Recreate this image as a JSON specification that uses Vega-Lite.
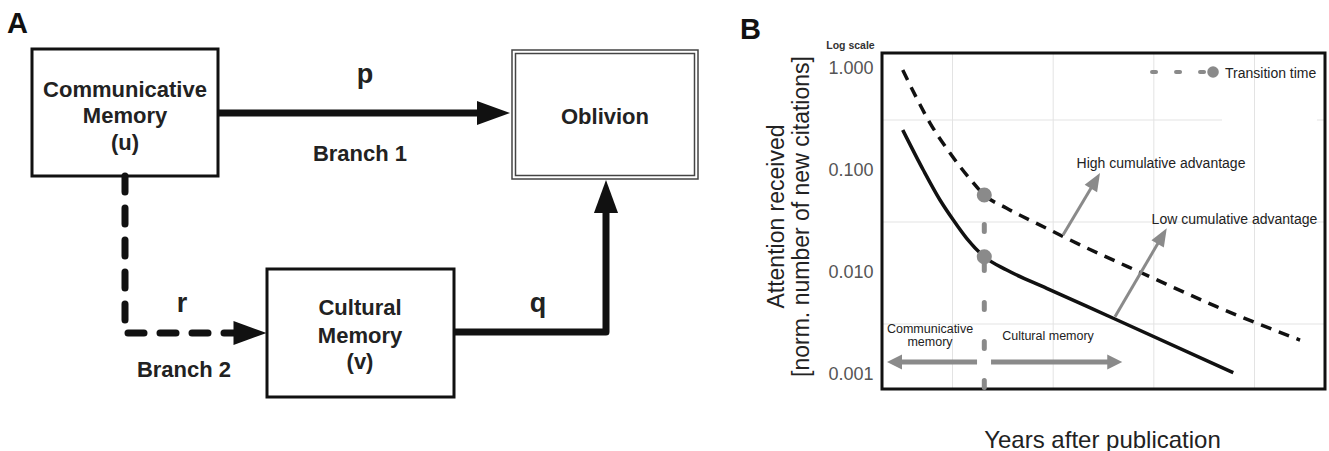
{
  "$schema": "https://vega.github.io/schema/vega-lite/v6.json",
  "width": 1329,
  "height": 451,
  "padding": 0,
  "autosize": {"type": "none"},
  "background": "white",
  "config": {"view": {"stroke": null}, "font": "Liberation Sans"},
  "datasets": {
    "boxes": [
      {"x": 32, "x2": 218, "y": 49, "y2": 176},
      {"x": 267, "x2": 454, "y": 269, "y2": 397}
    ],
    "oblivion": [
      {"x": 512, "x2": 698, "y": 50, "y2": 179},
      {"x": 515.5, "x2": 694.5, "y": 53.5, "y2": 175.5}
    ],
    "solidArrows": [
      {"seg": "p", "i": 0, "x": 218, "y": 113},
      {"seg": "p", "i": 1, "x": 495, "y": 113},
      {"seg": "q", "i": 0, "x": 454, "y": 332},
      {"seg": "q", "i": 1, "x": 606, "y": 332},
      {"seg": "q", "i": 2, "x": 606, "y": 198}
    ],
    "dashedArrow": [
      {"seg": "r", "i": 0, "x": 125, "y": 176},
      {"seg": "r", "i": 1, "x": 125, "y": 333},
      {"seg": "r", "i": 2, "x": 240, "y": 333}
    ],
    "headsRight": [
      {"x": 493.5, "y": 113},
      {"x": 250, "y": 333}
    ],
    "headsUp": [
      {"x": 606, "y": 196.5}
    ],
    "boxText": [
      {"t": "Communicative", "x": 125, "y": 97},
      {"t": "Memory", "x": 125, "y": 123},
      {"t": "(u)", "x": 125, "y": 150},
      {"t": "Cultural", "x": 360, "y": 315},
      {"t": "Memory", "x": 360, "y": 343},
      {"t": "(v)", "x": 360, "y": 369},
      {"t": "Oblivion", "x": 605, "y": 124},
      {"t": "Branch 1", "x": 360, "y": 161},
      {"t": "Branch 2", "x": 184, "y": 377}
    ],
    "edgeLetters": [
      {"t": "p", "x": 365, "y": 83},
      {"t": "q", "x": 538, "y": 312},
      {"t": "r", "x": 182, "y": 312}
    ],
    "panelLetters": [
      {"t": "A", "x": 7, "y": 33},
      {"t": "B", "x": 740, "y": 39}
    ],
    "vgrid": [
      {"x": 1, "y": 0.000729, "y2": 1.435},
      {"x": 2, "y": 0.000729, "y2": 1.435},
      {"x": 3, "y": 0.000729, "y2": 1.435},
      {"x": 4, "y": 0.000729, "y2": 1.435}
    ],
    "hgrid": [
      {"y": 0.3162, "x": 0.3, "x2": 3.677},
      {"y": 0.3162, "x": 4.62, "x2": 4.7},
      {"y": 0.03162, "x": 0.3, "x2": 4.7},
      {"y": 0.003162, "x": 0.3, "x2": 4.7}
    ],
    "frame": [
      {"x": 0.3, "x2": 4.7, "y": 0.000729, "y2": 1.435}
    ],
    "high": [
      {"x": 0.506, "y": 0.978},
      {"x": 0.638, "y": 0.5315},
      {"x": 0.777, "y": 0.2955},
      {"x": 0.975, "y": 0.1501},
      {"x": 1.174, "y": 0.0835},
      {"x": 1.316, "y": 0.0582},
      {"x": 1.539, "y": 0.0431},
      {"x": 1.936, "y": 0.0274},
      {"x": 2.101, "y": 0.0227},
      {"x": 2.962, "y": 0.0092},
      {"x": 3.624, "y": 0.00467},
      {"x": 4.452, "y": 0.0022}
    ],
    "low": [
      {"x": 0.506, "y": 0.2523},
      {"x": 0.710, "y": 0.1023},
      {"x": 0.876, "y": 0.052},
      {"x": 1.008, "y": 0.0331},
      {"x": 1.141, "y": 0.02188},
      {"x": 1.316, "y": 0.01444},
      {"x": 1.539, "y": 0.01069},
      {"x": 1.936, "y": 0.00708},
      {"x": 2.597, "y": 0.0036},
      {"x": 3.789, "y": 0.001054}
    ],
    "transitionLine": [
      {"i": 0, "x": 1.316, "y": 0.0299},
      {"i": 1, "x": 1.316, "y": 0.000729}
    ],
    "transitionDots": [
      {"x": 1.316, "y": 0.0582},
      {"x": 1.316, "y": 0.01444}
    ],
    "memoryArrows": [
      {"a": "left", "i": 0, "x": 1.244, "y": 0.001341},
      {"a": "left", "i": 1, "x": 0.43, "y": 0.001341},
      {"a": "right", "i": 0, "x": 1.383, "y": 0.001341},
      {"a": "right", "i": 1, "x": 2.6, "y": 0.001341}
    ],
    "memoryHeadLeft": [{"x": 0.424, "y": 0.001341}],
    "memoryHeadRight": [{"x": 2.612, "y": 0.001341}],
    "annotArrows": [
      {"a": "high", "i": 0, "x": 2.098, "y": 0.02359},
      {"a": "high", "i": 1, "x": 2.42, "y": 0.0803},
      {"a": "low", "i": 0, "x": 2.614, "y": 0.003728},
      {"a": "low", "i": 1, "x": 3.083, "y": 0.02301}
    ],
    "annotHeads": [
      {"x": 2.42, "y": 0.0803},
      {"x": 3.083, "y": 0.02301}
    ],
    "legendDash": [
      {"i": 0, "x": 2.982, "y": 0.9345},
      {"i": 1, "x": 3.56, "y": 0.9345}
    ],
    "legendDot": [{"x": 3.588, "y": 0.9345}],
    "legendText": [
      {"t": "Transition time", "x": 3.707, "y": 0.822}
    ],
    "chartText14": [
      {"t": "High cumulative advantage", "x": 3.071, "y": 0.1077},
      {"t": "Low cumulative advantage", "x": 3.801, "y": 0.0302}
    ],
    "chartText12": [
      {"t": "Communicative", "x": 0.777, "y": 0.002564},
      {"t": "memory", "x": 0.777, "y": 0.001937},
      {"t": "Cultural memory", "x": 1.949, "y": 0.002204}
    ],
    "logScale": [{"t": "Log scale", "x": -0.013, "y": 1.56}]
  },
  "layer": [
    {
      "encoding": {
        "x": {"field": "x", "type": "quantitative", "scale": {"domain": [0, 1329], "nice": false, "zero": false}, "axis": null},
        "y": {"field": "y", "type": "quantitative", "scale": {"domain": [0, 451], "reverse": true, "nice": false, "zero": false}, "axis": null}
      },
      "layer": [
        {"data": {"name": "boxes"}, "mark": {"type": "rect", "fillOpacity": 0, "stroke": "#111", "strokeWidth": 3}, "encoding": {"x2": {"field": "x2"}, "y2": {"field": "y2"}}},
        {"data": {"name": "oblivion"}, "mark": {"type": "rect", "fillOpacity": 0, "stroke": "#444", "strokeWidth": 1.5}, "encoding": {"x2": {"field": "x2"}, "y2": {"field": "y2"}}},
        {"data": {"name": "solidArrows"}, "mark": {"type": "line", "color": "#111", "strokeWidth": 7, "strokeJoin": "round"}, "encoding": {"detail": {"field": "seg"}, "order": {"field": "i"}}},
        {"data": {"name": "dashedArrow"}, "mark": {"type": "line", "color": "#111", "strokeWidth": 7, "strokeDash": [16, 16], "strokeCap": "round", "strokeJoin": "round"}, "encoding": {"order": {"field": "i"}}},
        {"data": {"name": "headsRight"}, "mark": {"type": "point", "shape": "M-1,-0.73L1,0L-1,0.73Z", "filled": true, "color": "#111", "opacity": 1, "size": 1089, "strokeWidth": 0}, "encoding": {}},
        {"data": {"name": "headsUp"}, "mark": {"type": "point", "shape": "M-1,-0.73L1,0L-1,0.73Z", "angle": 270, "filled": true, "color": "#111", "opacity": 1, "size": 1089, "strokeWidth": 0}, "encoding": {}},
        {"data": {"name": "boxText"}, "mark": {"type": "text", "fontSize": 22, "fontWeight": "bold", "color": "#222", "align": "center", "baseline": "alphabetic"}, "encoding": {"text": {"field": "t"}}},
        {"data": {"name": "edgeLetters"}, "mark": {"type": "text", "fontSize": 27, "fontWeight": "bold", "color": "#222", "align": "center", "baseline": "alphabetic"}, "encoding": {"text": {"field": "t"}}},
        {"data": {"name": "panelLetters"}, "mark": {"type": "text", "fontSize": 29, "fontWeight": "bold", "color": "#111", "align": "left", "baseline": "alphabetic"}, "encoding": {"text": {"field": "t"}}}
      ]
    },
    {
      "encoding": {
        "x": {
          "field": "x", "type": "quantitative",
          "scale": {"domain": [0.3, 4.7], "range": [882, 1325], "nice": false, "zero": false},
          "axis": {"title": "Years after publication", "labels": false, "ticks": false, "tickSize": 0, "domain": false, "grid": false, "offset": -62, "titleFontSize": 24, "titleFontWeight": "normal", "titleColor": "#222", "titleBaseline": "alphabetic", "titleAlign": "center", "titleX": 1102, "titleY": 58}
        },
        "y": {
          "field": "y", "type": "quantitative",
          "scale": {"type": "log", "domain": [0.000729, 1.435], "range": [389, 53], "nice": false},
          "axis": {"values": [0.001, 0.01, 0.1, 1], "format": ".3f", "labelFontSize": 18, "labelColor": "#555", "labelPadding": 9, "ticks": false, "tickSize": 0, "domain": false, "grid": false, "offset": -882, "title": ["Attention received", "[norm. number of new citations]"], "titleFontSize": 23, "titleFontWeight": "normal", "titleColor": "#222", "titleAngle": -90, "titleAlign": "center", "titleBaseline": "middle", "titleX": -106, "titleY": 216, "titleLineHeight": 25}
        }
      },
      "layer": [
        {"data": {"name": "vgrid"}, "mark": {"type": "rule", "color": "#e3e3e3", "strokeWidth": 1}, "encoding": {"y2": {"field": "y2"}}},
        {"data": {"name": "hgrid"}, "mark": {"type": "rule", "color": "#e3e3e3", "strokeWidth": 1}, "encoding": {"x2": {"field": "x2"}}},
        {"data": {"name": "frame"}, "mark": {"type": "rect", "fillOpacity": 0, "stroke": "#111", "strokeWidth": 3}, "encoding": {"x2": {"field": "x2"}, "y2": {"field": "y2"}}},
        {"data": {"name": "low"}, "mark": {"type": "line", "color": "#111", "strokeWidth": 3.5, "interpolate": "monotone"}, "encoding": {}},
        {"data": {"name": "high"}, "mark": {"type": "line", "color": "#111", "strokeWidth": 3.5, "strokeDash": [11, 8], "interpolate": "monotone"}, "encoding": {}},
        {"data": {"name": "transitionLine"}, "mark": {"type": "line", "color": "#8a8a8a", "strokeWidth": 5, "strokeDash": [7, 32], "strokeCap": "round"}, "encoding": {"order": {"field": "i"}}},
        {"data": {"name": "memoryArrows"}, "mark": {"type": "line", "color": "#8a8a8a", "strokeWidth": 5}, "encoding": {"detail": {"field": "a"}, "order": {"field": "i"}}},
        {"data": {"name": "memoryHeadLeft"}, "mark": {"type": "point", "shape": "M-1,-1L1,0L-1,1Z", "angle": 180, "filled": true, "color": "#8a8a8a", "opacity": 1, "size": 225, "strokeWidth": 0}, "encoding": {}},
        {"data": {"name": "memoryHeadRight"}, "mark": {"type": "point", "shape": "M-1,-1L1,0L-1,1Z", "filled": true, "color": "#8a8a8a", "opacity": 1, "size": 225, "strokeWidth": 0}, "encoding": {}},
        {"data": {"name": "annotArrows"}, "mark": {"type": "line", "color": "#8a8a8a", "strokeWidth": 3}, "encoding": {"detail": {"field": "a"}, "order": {"field": "i"}}},
        {"data": {"name": "annotHeads"}, "mark": {"type": "point", "shape": "M-1,-0.8L1,0L-1,0.8Z", "angle": -59.5, "filled": true, "color": "#8a8a8a", "opacity": 1, "size": 324, "strokeWidth": 0}, "encoding": {}},
        {"data": {"name": "transitionDots"}, "mark": {"type": "point", "shape": "circle", "filled": true, "color": "#8a8a8a", "opacity": 1, "size": 227, "strokeWidth": 0}, "encoding": {}},
        {"data": {"name": "legendDash"}, "mark": {"type": "line", "color": "#8a8a8a", "strokeWidth": 4, "strokeDash": [4, 20], "strokeCap": "round"}, "encoding": {"order": {"field": "i"}}},
        {"data": {"name": "legendDot"}, "mark": {"type": "point", "shape": "circle", "filled": true, "color": "#8a8a8a", "opacity": 1, "size": 133, "strokeWidth": 0}, "encoding": {}},
        {"data": {"name": "legendText"}, "mark": {"type": "text", "fontSize": 14, "color": "#222", "align": "left", "baseline": "alphabetic"}, "encoding": {"text": {"field": "t"}}},
        {"data": {"name": "chartText14"}, "mark": {"type": "text", "fontSize": 14, "color": "#222", "align": "center", "baseline": "alphabetic"}, "encoding": {"text": {"field": "t"}}},
        {"data": {"name": "chartText12"}, "mark": {"type": "text", "fontSize": 12.5, "color": "#222", "align": "center", "baseline": "alphabetic"}, "encoding": {"text": {"field": "t"}}},
        {"data": {"name": "logScale"}, "mark": {"type": "text", "fontSize": 10.5, "fontWeight": "bold", "color": "#333", "align": "center", "baseline": "alphabetic"}, "encoding": {"text": {"field": "t"}}}
      ]
    }
  ],
  "resolve": {
    "scale": {"x": "independent", "y": "independent"},
    "axis": {"x": "independent", "y": "independent"}
  }
}
